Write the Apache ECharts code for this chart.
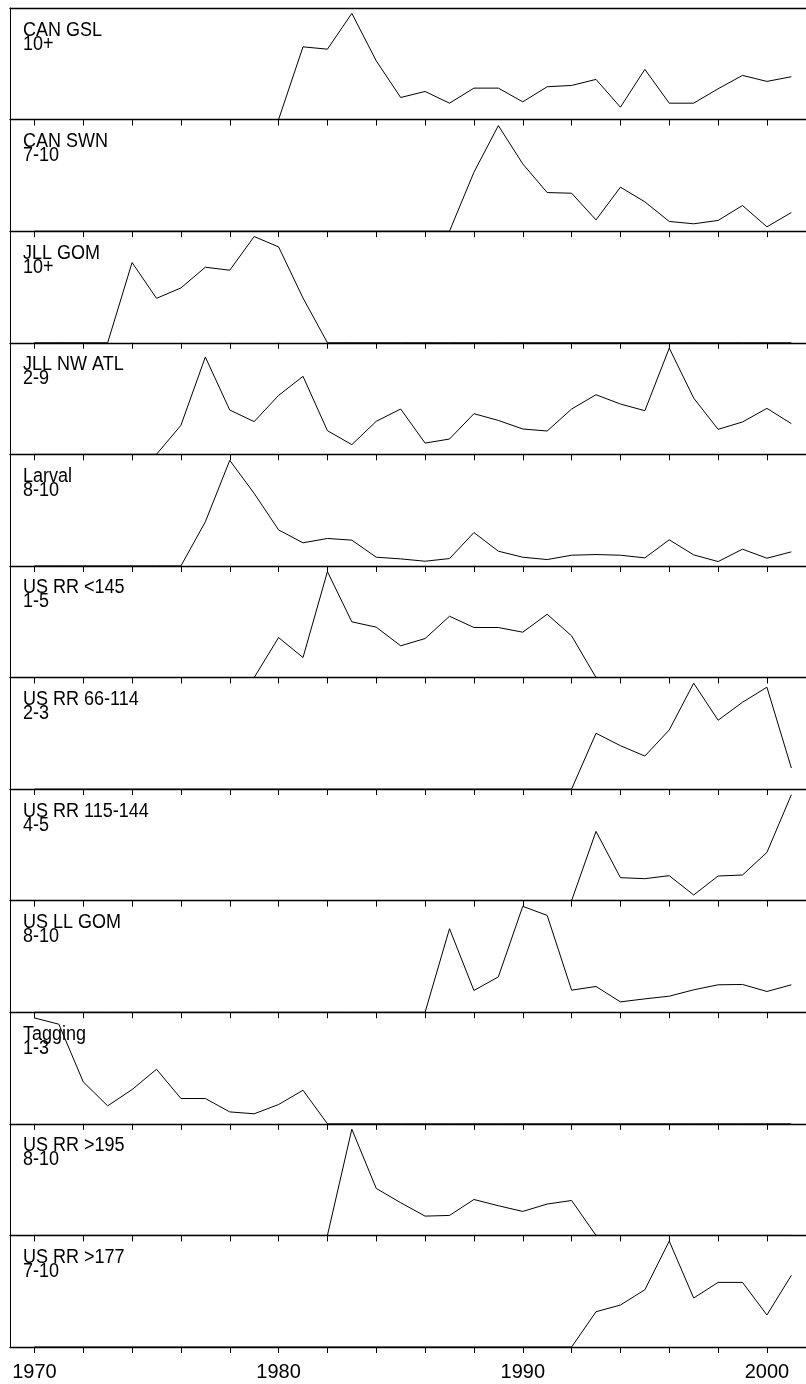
<!DOCTYPE html>
<html>
<head>
<meta charset="utf-8">
<script src="https://cdn.jsdelivr.net/npm/echarts@6/dist/echarts.min.js"></script>
<style>
html,body{margin:0;padding:0;background:#fff;}
#chart{width:806px;height:1384px;}
</style>
</head>
<body>
<div id="chart"></div>
<script>
const years = [1970,1971,1972,1973,1974,1975,1976,1977,1978,1979,1980,1981,1982,1983,1984,1985,1986,1987,1988,1989,1990,1991,1992,1993,1994,1995,1996,1997,1998,1999,2000,2001];
const tickYears = [1970,1972,1974,1976,1978,1980,1982,1984,1986,1988,1990,1992,1994,1996,1998,2000];
const labelYears = [1970,1980,1990,2000];

const panelNames = ["CAN GSL","CAN SWN","JLL GOM","JLL NW ATL","Larval","US RR <145","US RR 66-114","US RR 115-144","US LL GOM","Tagging","US RR >195","US RR >177"];
const panelAges = ["10+","7-10","10+","2-9","8-10","1-5","2-3","4-5","8-10","1-3","8-10","7-10"];

const canGsl   = [0,0,0,0,0,0,0,0,0,0,0,65.2,63.1,95.2,52.6,19.8,25.2,14.7,28.2,28.2,15.9,29.4,30.6,36.0,11.1,45.0,14.7,14.7,27.6,39.6,34.2,38.4];
const canSwn   = [0,0,0,0,0,0,0,0,0,0,0,0,0,0,0,0,0,0,52.8,94.6,60.3,34.6,34.0,10.1,39.4,26.3,8.7,6.6,9.6,23.0,3.9,16.7];
const jllGom   = [0,0,0,0,71.9,39.8,49.1,67.7,65.0,95.2,85.9,40.1,0,0,0,0,0,0,0,0,0,0,0,0,0,0,0,0,0,0,0,0];
const jllNwAtl = [0,0,0,0,0,0,26.0,87.2,39.7,29.3,52.8,69.9,21.2,8.7,29.6,40.6,10.1,13.7,36.4,30.4,22.7,20.9,40.6,53.4,45.1,39.1,95.2,50.4,22.4,29.0,41.2,27.5];
const larval   = [0,0,0,0,0,0,0,39.5,94.6,65.0,32.3,20.7,24.6,23.1,7.8,6.3,4.2,6.6,29.9,13.2,7.8,5.7,9.6,10.2,9.6,7.2,23.4,9.9,3.9,15.0,6.9,12.6];
const usRr145  = [0,0,0,0,0,0,0,0,0,0,35.8,17.9,94.9,49.9,45.1,28.4,34.9,54.9,44.8,44.8,40.6,56.7,37.3,0,0,0,0,0,0,0,0,0];
const usRr66   = [0,0,0,0,0,0,0,0,0,0,0,0,0,0,0,0,0,0,0,0,0,0,0,50.0,38.9,29.6,53.0,94.9,61.7,77.8,91.3,18.9];
const usRr115  = [0,0,0,0,0,0,0,0,0,0,0,0,0,0,0,0,0,0,0,0,0,0,0,62.1,20.6,19.7,22.4,5.1,22.1,23.0,43.3,94.9];
const usLlGom  = [0,0,0,0,0,0,0,0,0,0,0,0,0,0,0,0,0,74.9,19.5,31.7,94.9,86.8,19.8,23.1,9.3,12.0,14.4,20.1,24.6,24.9,18.6,24.6];
const tagging  = [94.9,89.3,37.6,16.1,30.7,48.9,22.7,22.7,10.7,9.0,17.3,30.1,0,0,0,0,0,0,0,0,0,0,0,0,0,0,0,0,0,0,0,0];
const usRr195  = [0,0,0,0,0,0,0,0,0,0,0,0,0,95.2,42.1,29.3,17.3,17.9,32.2,26.6,21.5,28.1,31.3,0,0,0,0,0,0,0,0,0];
const usRr177  = [0,0,0,0,0,0,0,0,0,0,0,0,0,0,0,0,0,0,0,0,0,0,0,31.6,37.6,51.3,94.9,43.9,57.9,57.9,28.7,64.2];

const seriesValues = [canGsl,canSwn,jllGom,jllNwAtl,larval,usRr145,usRr66,usRr115,usLlGom,tagging,usRr195,usRr177];

const chart = echarts.init(document.getElementById('chart'), null, {renderer:'canvas'});
const TOP = 8, BOTTOM = 1347, LEFT = 10;
const N = seriesValues.length;
const H = (BOTTOM - TOP) / N;
const XMIN = 1969, XMAX = 2001.6;
const FONT = '"Liberation Sans", Arial, sans-serif';

const grid = [], xAxis = [], yAxis = [], series = [], graphic = [];
for (let i = 0; i < N; i++) {
  const top = TOP + i * H;
  grid.push({left: LEFT, right: 0, top: top, height: H, containLabel: false});
  xAxis.push({
    gridIndex: i, type: 'value', min: XMIN, max: XMAX, position: 'bottom',
    axisLine: {show: true, onZero: false, lineStyle: {color: '#000', width: 1.3}},
    axisTick: {show: true, inside: false, length: 6, customValues: tickYears, lineStyle: {color: '#000', width: 1}},
    axisLabel: {show: i === N - 1, customValues: labelYears, margin: 15, fontSize: 20, color: '#000', fontFamily: FONT, formatter: v => String(v)},
    splitLine: {show: false}
  });
  yAxis.push({
    gridIndex: i, type: 'value', min: 0, max: 100,
    axisLine: {show: true, onZero: false, lineStyle: {color: '#000', width: 1}},
    axisTick: {show: false}, axisLabel: {show: false}, splitLine: {show: false}
  });
  series.push({
    type: 'line', xAxisIndex: i, yAxisIndex: i,
    data: years.map((y, k) => [y, seriesValues[i][k]]),
    showSymbol: false, symbol: 'none',
    lineStyle: {color: '#000', width: 1},
    z: 3, animation: false
  });
  graphic.push({
    type: 'text', x: 23, y: top + 22, scaleX: 0.9, z: 10,
    style: {text: panelNames[i], font: '20px ' + FONT, fill: '#000', verticalAlign: 'middle', align: 'left'}
  });
  graphic.push({
    type: 'text', x: 23, y: top + 36, scaleX: 0.9, z: 10,
    style: {text: panelAges[i], font: '20px ' + FONT, fill: '#000', verticalAlign: 'middle', align: 'left'}
  });
}
// top border of the first panel
xAxis.push({
  gridIndex: 0, type: 'value', min: XMIN, max: XMAX, position: 'top',
  axisLine: {show: true, onZero: false, lineStyle: {color: '#000', width: 1.3}},
  axisTick: {show: false}, axisLabel: {show: false}, splitLine: {show: false}
});

chart.setOption({
  animation: false,
  backgroundColor: '#fff',
  grid: grid,
  xAxis: xAxis,
  yAxis: yAxis,
  series: series,
  graphic: graphic
});
</script>
</body>
</html>
